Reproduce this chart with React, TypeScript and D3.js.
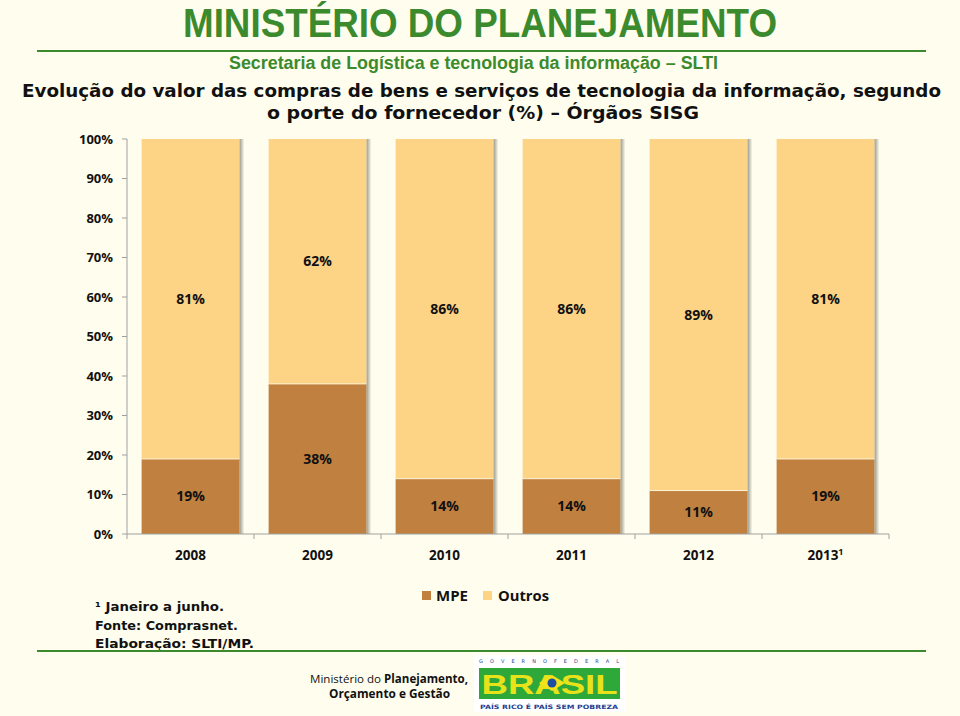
import React from "react";
import * as d3 from "d3";

const years = ["2008", "2009", "2010", "2011", "2012", "2013"];
const mpe = [19, 38, 14, 14, 11, 19];
const outros = [81, 62, 86, 86, 89, 81];
const yTicks = [0, 10, 20, 30, 40, 50, 60, 70, 80, 90, 100];
const footnotes = ["¹ Janeiro a junho.", "Fonte: Comprasnet.", "Elaboração: SLTI/MP."];

const W = 960;
const H = 716;
const BG = "#FFFEEE";
const C_MPE = "#C0803F";
const C_OUT = "#FDD486";
const GREEN = "#3C8A2E";

export default function App() {
  const x = d3.scaleBand<string>().domain(years).range([127, 889]).paddingInner(0.23).paddingOuter(0.115);
  const y = d3.scaleLinear().domain([0, 100]).range([534, 139]);
  const bw = x.bandwidth();
  const step = x.step();
  const boundaries = d3.range(years.length + 1).map((i) => 127 + i * step);
  const lab = { fontFamily: "'Open Sans', sans-serif", fontWeight: 700 as const, fill: "#111" };

  return (
    <div style={{ position: "fixed", left: 0, top: 0, width: W, height: H, background: BG }}>
      <svg width={W} height={H} style={{ display: "block" }}>
        <defs>
          <linearGradient id="shadow" x1="0" x2="1" y1="0" y2="0">
            <stop offset="0" stopColor="#8c8c80" stopOpacity={0.9} />
            <stop offset="1" stopColor="#8c8c80" stopOpacity={0} />
          </linearGradient>
        </defs>
        <rect width={W} height={H} fill={BG} />

        {/* Header */}
        <text x={480} y={37} textAnchor="middle" fontFamily="'Liberation Sans Narrow', 'Liberation Sans', Arial, sans-serif"
          fontWeight={700} fontSize={40} fill={GREEN} textLength={594} lengthAdjust="spacingAndGlyphs">
          MINISTÉRIO DO PLANEJAMENTO
        </text>
        <line x1={37} x2={926} y1={51} y2={51} stroke={GREEN} strokeWidth={2} />
        <text x={473.5} y={69} textAnchor="middle" fontFamily="'Liberation Sans Narrow', 'Liberation Sans', Arial, sans-serif"
          fontWeight={700} fontSize={18} fill={GREEN} textLength={489} lengthAdjust="spacingAndGlyphs">
          Secretaria de Logística e tecnologia da informação – SLTI
        </text>
        <text x={481.5} y={97} textAnchor="middle" fontFamily="'DejaVu Sans', sans-serif" fontWeight={700} fontSize={17}
          fill="#111" textLength={919} lengthAdjust="spacingAndGlyphs">
          Evolução do valor das compras de bens e serviços de tecnologia da informação, segundo
        </text>
        <text x={483} y={119} textAnchor="middle" fontFamily="'DejaVu Sans', sans-serif" fontWeight={700} fontSize={17}
          fill="#111" textLength={432} lengthAdjust="spacingAndGlyphs">
          o porte do fornecedor (%) – Órgãos SISG
        </text>

        {/* Bars */}
        {years.map((yr, i) => {
          const x0 = x(yr)!;
          return (
            <g key={yr}>
              <rect x={x0 + bw} y={y(100)} width={5} height={y(0) - y(100)} fill="url(#shadow)" />
              <rect x={x0} y={y(mpe[i] + outros[i])} width={bw} height={y(mpe[i]) - y(mpe[i] + outros[i])} fill={C_OUT} />
              <rect x={x0} y={y(mpe[i])} width={bw} height={y(0) - y(mpe[i])} fill={C_MPE} />
              <line x1={x0} x2={x0 + bw} y1={y(mpe[i])} y2={y(mpe[i])} stroke="#FFF3D6" strokeWidth={1} />
              <text x={x0 + bw / 2} y={y(mpe[i] + outros[i] / 2)} dy="0.35em" textAnchor="middle" fontSize={14} {...lab}>
                {outros[i]}%
              </text>
              <text x={x0 + bw / 2} y={y(mpe[i] / 2)} dy="0.35em" textAnchor="middle" fontSize={14} {...lab}>
                {mpe[i]}%
              </text>
            </g>
          );
        })}

        {/* Y axis */}
        <line x1={127} x2={127} y1={y(100)} y2={y(0)} stroke="#a0a0a0" strokeWidth={1} />
        {yTicks.map((t) => (
          <g key={t}>
            <line x1={122} x2={127} y1={y(t)} y2={y(t)} stroke="#a0a0a0" />
            <text x={113} y={y(t)} dy="0.35em" textAnchor="end" fontSize={13} {...lab}>
              {t}%
            </text>
          </g>
        ))}

        {/* X axis */}
        <line x1={127} x2={889} y1={y(0)} y2={y(0)} stroke="#a0a0a0" />
        {boundaries.map((b, i) => (
          <line key={i} x1={b} x2={b} y1={y(0)} y2={y(0) + 5} stroke="#a0a0a0" />
        ))}
        {years.map((yr) => (
          <text key={yr} x={x(yr)! + bw / 2} y={560} textAnchor="middle" fontSize={13.5} {...lab}>
            {yr}
            {yr === "2013" ? <tspan dy={-5} fontSize={9}>1</tspan> : null}
          </text>
        ))}

        {/* Legend */}
        <rect x={422} y={591} width={9} height={9} fill={C_MPE} />
        <text x={436} y={601} fontSize={15} {...lab} textLength={32} lengthAdjust="spacingAndGlyphs">MPE</text>
        <rect x={483} y={591} width={9} height={9} fill={C_OUT} />
        <text x={498} y={601} fontSize={15} {...lab} textLength={51} lengthAdjust="spacingAndGlyphs">Outros</text>

        {/* Footnotes */}
        {footnotes.map((f, i) => (
          <text key={i} x={95} y={611 + i * 18.5} fontFamily="'DejaVu Sans', sans-serif" fontWeight={700} fontSize={12.5}
            fill="#111" textLength={[129, 143, 159][i]} lengthAdjust="spacingAndGlyphs">
            {f}
          </text>
        ))}

        {/* Footer */}
        <line x1={37} x2={926} y1={651} y2={651} stroke={GREEN} strokeWidth={2} />
        <text x={310} y={683} fontFamily="'Open Sans', sans-serif" fontSize={11.5} fill="#111" textLength={158} lengthAdjust="spacingAndGlyphs">
          Ministério do <tspan fontWeight={700}>Planejamento,</tspan>
        </text>
        <text x={389.5} y={698} textAnchor="middle" fontFamily="'Open Sans', sans-serif" fontWeight={700} fontSize={11.5}
          fill="#111" textLength={121} lengthAdjust="spacingAndGlyphs">
          Orçamento e Gestão
        </text>

        {/* Logo */}
        <rect x={474} y={655} width={152} height={57} fill="#ffffff" />
        <text x={549} y={663} textAnchor="middle" fontFamily="'DejaVu Sans', sans-serif" fontSize={5} fill="#1f3f8f"
          textLength={140} lengthAdjust="spacing">
          G O V E R N O   F E D E R A L
        </text>
        <rect x={479} y={668} width={141} height={31} fill="#2FA83A" />
        <text x={549.5} y={694} textAnchor="middle" fontFamily="'Liberation Sans', Arial, sans-serif" fontWeight={900}
          fontSize={27} fill="#E8E21A" textLength={136} lengthAdjust="spacingAndGlyphs">
          BRASIL
        </text>
        <polygon points="539,683 552,675 565,683 552,691" fill="#F4E21A" />
        <circle cx={552} cy={683} r={4.5} fill="#1E4FA0" />
        <text x={549} y={708.5} textAnchor="middle" fontFamily="'DejaVu Sans', sans-serif" fontWeight={700} fontSize={6}
          fill="#1f3f8f" textLength={138} lengthAdjust="spacingAndGlyphs">
          PAÍS RICO É PAÍS SEM POBREZA
        </text>
      </svg>
    </div>
  );
}
